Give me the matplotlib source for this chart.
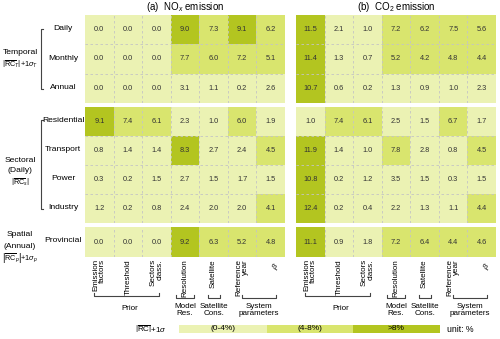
import numpy as np
import matplotlib
matplotlib.use("Agg")
import matplotlib.pyplot as plt
from matplotlib.colors import ListedColormap, BoundaryNorm

plt.rcParams['font.family'] = ['Liberation Sans', 'DejaVu Sans']
plt.rcParams['mathtext.fontset'] = 'custom'
plt.rcParams['mathtext.rm'] = 'Liberation Sans'
plt.rcParams['mathtext.it'] = 'Liberation Sans:italic'

columns = ["Emission\nfactors", "Threshold", "Sectors\nclass.", "Resolution",
           "Satellite", "Reference\nyear", r"$\beta$"]
temporal_rows = ["Daily", "Monthly", "Annual"]
sectoral_rows = ["Residential", "Transport", "Power", "Industry"]
spatial_rows = ["Provincial"]

nox_temporal = [[0.0, 0.0, 0.0, 9.0, 7.3, 9.1, 6.2],
                [0.0, 0.0, 0.0, 7.7, 6.0, 7.2, 5.1],
                [0.0, 0.0, 0.0, 3.1, 1.1, 0.2, 2.6]]
nox_sectoral = [[9.1, 7.4, 6.1, 2.3, 1.0, 6.0, 1.9],
                [0.8, 1.4, 1.4, 8.3, 2.7, 2.4, 4.5],
                [0.3, 0.2, 1.5, 2.7, 1.5, 1.7, 1.5],
                [1.2, 0.2, 0.8, 2.4, 2.0, 2.0, 4.1]]
nox_spatial = [[0.0, 0.0, 0.0, 9.2, 6.3, 5.2, 4.8]]

co2_temporal = [[11.5, 2.1, 1.0, 7.2, 6.2, 7.5, 5.6],
                [11.4, 1.3, 0.7, 5.2, 4.2, 4.8, 4.4],
                [10.7, 0.6, 0.2, 1.3, 0.9, 1.0, 2.3]]
co2_sectoral = [[1.0, 7.4, 6.1, 2.5, 1.5, 6.7, 1.7],
                [11.9, 1.4, 1.0, 7.8, 2.8, 0.8, 4.5],
                [10.8, 0.2, 1.2, 3.5, 1.5, 0.3, 1.5],
                [12.4, 0.2, 0.4, 2.2, 1.3, 1.1, 4.4]]
co2_spatial = [[11.1, 0.9, 1.8, 7.2, 6.4, 4.4, 4.6]]

bounds = [0, 4, 8, 100]
legend_labels = ["(0-4%)", "(4-8%)", ">8%"]
colors = ["#ebf2b3", "#d9e56e", "#b3c520"]
cmap = ListedColormap(colors)
norm = BoundaryNorm(bounds, cmap.N)

W, H = 500, 339
fig = plt.figure(figsize=(W / 100, H / 100), dpi=100)


def px_axes(x0, y0, x1, y1):
    return fig.add_axes([x0 / W, 1 - y1 / H, (x1 - x0) / W, (y1 - y0) / H])


def block(x0, x1, y0, y1, vals):
    ax = px_axes(x0, y0, x1, y1)
    v = np.array(vals)
    ax.pcolormesh(v, cmap=cmap, norm=norm)
    ax.set_xlim(0, v.shape[1])
    ax.set_ylim(v.shape[0], 0)
    for i in range(v.shape[0]):
        for j in range(v.shape[1]):
            ax.text(j + 0.5, i + 0.5, "%.1f" % v[i, j], ha='center', va='center',
                    fontsize=5.3, color='#333333')
    for j in range(1, v.shape[1]):
        ax.axvline(j, color='#c4c4c4', lw=0.6, ls=(0, (3, 3)))
    for i in range(1, v.shape[0]):
        ax.axhline(i, color='#c4c4c4', lw=0.6, ls=(0, (3, 3)))
    ax.set_xticks([])
    ax.set_yticks([])
    for s in ax.spines.values():
        s.set_visible(False)
    return ax


row_spans = [(15, 103), (107, 223), (227, 257)]
panels = [(85, 285, [nox_temporal, nox_sectoral, nox_spatial]),
          (296, 496, [co2_temporal, co2_sectoral, co2_spatial])]
for x0, x1, blocks in panels:
    for (y0, y1), vals in zip(row_spans, blocks):
        block(x0, x1, y0, y1, vals)

# overlay for annotations in pixel coordinates
ov = fig.add_axes([0, 0, 1, 1])
ov.set_xlim(0, W)
ov.set_ylim(H, 0)
ov.axis('off')
ov.patch.set_alpha(0)

ov.text(185, 7, r"(a)  NO$_x$ emission", ha='center', va='center', fontsize=7)
ov.text(396, 7, r"(b)  CO$_2$ emission", ha='center', va='center', fontsize=7)

# row labels
for rows, (y0, y1) in zip([temporal_rows, sectoral_rows, spatial_rows], row_spans):
    h = (y1 - y0) / len(rows)
    for i, r in enumerate(rows):
        ov.text(63, y0 + h * (i + 0.5) - 1, r, ha='center', va='center', fontsize=6.1)

# left brackets
for ya, yb in [(29, 89), (120, 209)]:
    ov.plot([43, 40.5, 40.5, 43], [ya, ya, yb, yb], color='#444444', lw=0.8)

grp_fs = 6.1
ov.text(20, 52, "Temporal", ha='center', va='center', fontsize=grp_fs)
ov.text(20, 64, r"$\left|\overline{\mathrm{RC}}_T\right|$+1$\sigma_T$", ha='center',
        va='center', fontsize=5.2)
ov.text(20, 160, "Sectoral", ha='center', va='center', fontsize=grp_fs)
ov.text(20, 170, "(Daily)", ha='center', va='center', fontsize=grp_fs)
ov.text(20, 182, r"$\left|\overline{\mathrm{RC}}_s\right|$", ha='center',
        va='center', fontsize=5.2)
ov.text(20, 235, "Spatial", ha='center', va='center', fontsize=grp_fs)
ov.text(20, 246, "(Annual)", ha='center', va='center', fontsize=grp_fs)
ov.text(20, 258, r"$\left|\overline{\mathrm{RC}}_p\right|$+1$\sigma_p$", ha='center',
        va='center', fontsize=5.2)

# column labels and brackets
cw = 200 / 7
lab_fs = 5.8
for x0 in [85, 296]:
    for j, c in enumerate(columns):
        xc = x0 + cw * (j + 0.5)
        if j == 6:
            ov.text(xc + 5, 261, c, ha='center', va='top', rotation=60, fontsize=lab_fs)
        else:
            ov.text(xc, 259, c, ha='center', va='top', rotation=90,
                    multialignment='right', fontsize=lab_fs, linespacing=0.9)
    brk = [(x0 + 9, x0 + 74, 296), (x0 + 91, x0 + 109, 298),
           (x0 + 123, x0 + 135, 298), (x0 + 157, x0 + 191, 298)]
    for a, b, y in brk:
        ov.plot([a, a, b, b], [y - 3, y, y, y - 3], color='#444444', lw=0.8)
    ov.text(x0 + 45, 308, "Prior", ha='center', va='center', fontsize=lab_fs)
    ov.text(x0 + 100, 310, "Model\nRes.", ha='center', va='center', fontsize=lab_fs,
            linespacing=1.15)
    ov.text(x0 + 129, 310, "Satellite\nCons.", ha='center', va='center', fontsize=lab_fs,
            linespacing=1.15)
    ov.text(x0 + 174, 310, "System\nparameters", ha='center', va='center',
            fontsize=lab_fs, linespacing=1.15)

# legend bar
ov.text(151, 329, r"$\left|\overline{\mathrm{RC}}\right|$+1$\sigma$", ha='center',
        va='center', fontsize=5.8)
lx = [179, 267, 353, 440]
for i in range(3):
    ov.add_patch(plt.Rectangle((lx[i], 325), lx[i + 1] - lx[i], 8, color=colors[i], lw=0))
    ov.text((lx[i] + lx[i + 1]) / 2, 329, legend_labels[i], ha='center', va='center',
            fontsize=6)
ov.text(447, 329, "unit: %", ha='left', va='center', fontsize=6.3)

fig.savefig("out.png", dpi=100)
